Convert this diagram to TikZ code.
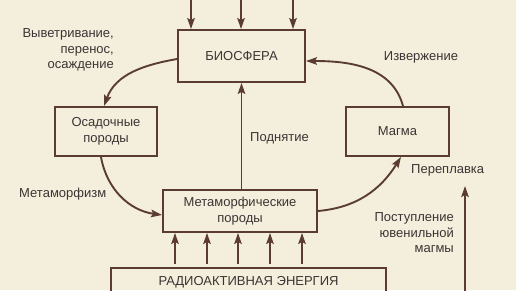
\documentclass[tikz,border=0pt]{standalone}
\usepackage{fontspec}
\setmainfont{Liberation Sans}
\usetikzlibrary{arrows.meta}
\definecolor{bg}{HTML}{F4EFDC}
\definecolor{ln}{HTML}{5B3C33}
\definecolor{tx}{HTML}{3A3434}
\begin{document}
\begin{tikzpicture}[x=1pt,y=-1pt,
  font=\fontsize{13}{15.5}\selectfont, text=tx,
  box/.style={draw=ln, line width=1.9pt, rectangle, align=center, inner sep=0pt},
  arr/.style={draw=ln, line width=1.9pt, -{Stealth[length=11pt,width=7.5pt,inset=2pt]}},
  lbl/.style={inner sep=0pt, text=tx}]
\fill[bg] (0,0) rectangle (516,290);
\useasboundingbox (0,0) rectangle (516,290);

\node[box, minimum width=127pt, minimum height=52pt] (bio) at (241.5,56) {БИОСФЕРА};
\node[box, minimum width=102pt, minimum height=49pt] (osad) at (106,131.5) {Осадочные\\породы};
\node[box, minimum width=103pt, minimum height=49pt] (magma) at (397.5,131.5) {Магма};
\node[box, minimum width=154pt, minimum height=42pt] (meta) at (240,211) {Метаморфические\\породы};
\node[box, minimum width=275pt, minimum height=40pt, anchor=north] (radio) at (248.5,267) {};
\node[lbl] (radiot) at (248.5,282) {РАДИОАКТИВНАЯ ЭНЕРГИЯ};

% top incoming arrows
\foreach \x/\n in {191/a,241/b,293/c} {
  \coordinate (t\n) at (\x,-2);
  \draw[arr] (t\n) -- (t\n |- bio.north);
}
% radioactive arrows
\foreach \x/\n in {175/a,207/b,238/c,270/d,302/e} {
  \coordinate (r\n) at (\x,267);
  \draw[arr, shorten <=3pt] (r\n) -- (r\n |- meta.south);
}

% curved flows
\draw[arr] ([yshift=-3pt]bio.west) to[out=190,in=70] ([xshift=-2pt]osad.north);
\draw[arr] ([xshift=5.5pt]magma.north) to[out=105,in=0] ([yshift=-5pt]bio.east);
\draw[arr] ([xshift=-5pt]osad.south) to[out=-80,in=172] ([yshift=-4pt]meta.west);
\draw[arr] (meta.east) to[out=5,in=238] ([xshift=3.5pt]magma.south);
\draw[arr] (meta.north -| bio.south) -- (bio.south);

\coordinate (jb) at (465,292);
\coordinate (jt) at (465,186);
\draw[arr] (jb) -- (jt);

% labels
\node[lbl, align=right, anchor=east] at (114,50) {Выветривание,\\перенос,\\осаждение};
\node[lbl] at (421,57) {Извержение};
\node[lbl, anchor=west] at (250,138) {Поднятие};
\node[lbl, anchor=west] at (19,194) {Метаморфизм};
\node[lbl, anchor=west] at (411,170) {Переплавка};
\node[lbl, align=right, anchor=east] at (454,233) {Поступление\\ювенильной\\магмы};
\end{tikzpicture}
\end{document}
